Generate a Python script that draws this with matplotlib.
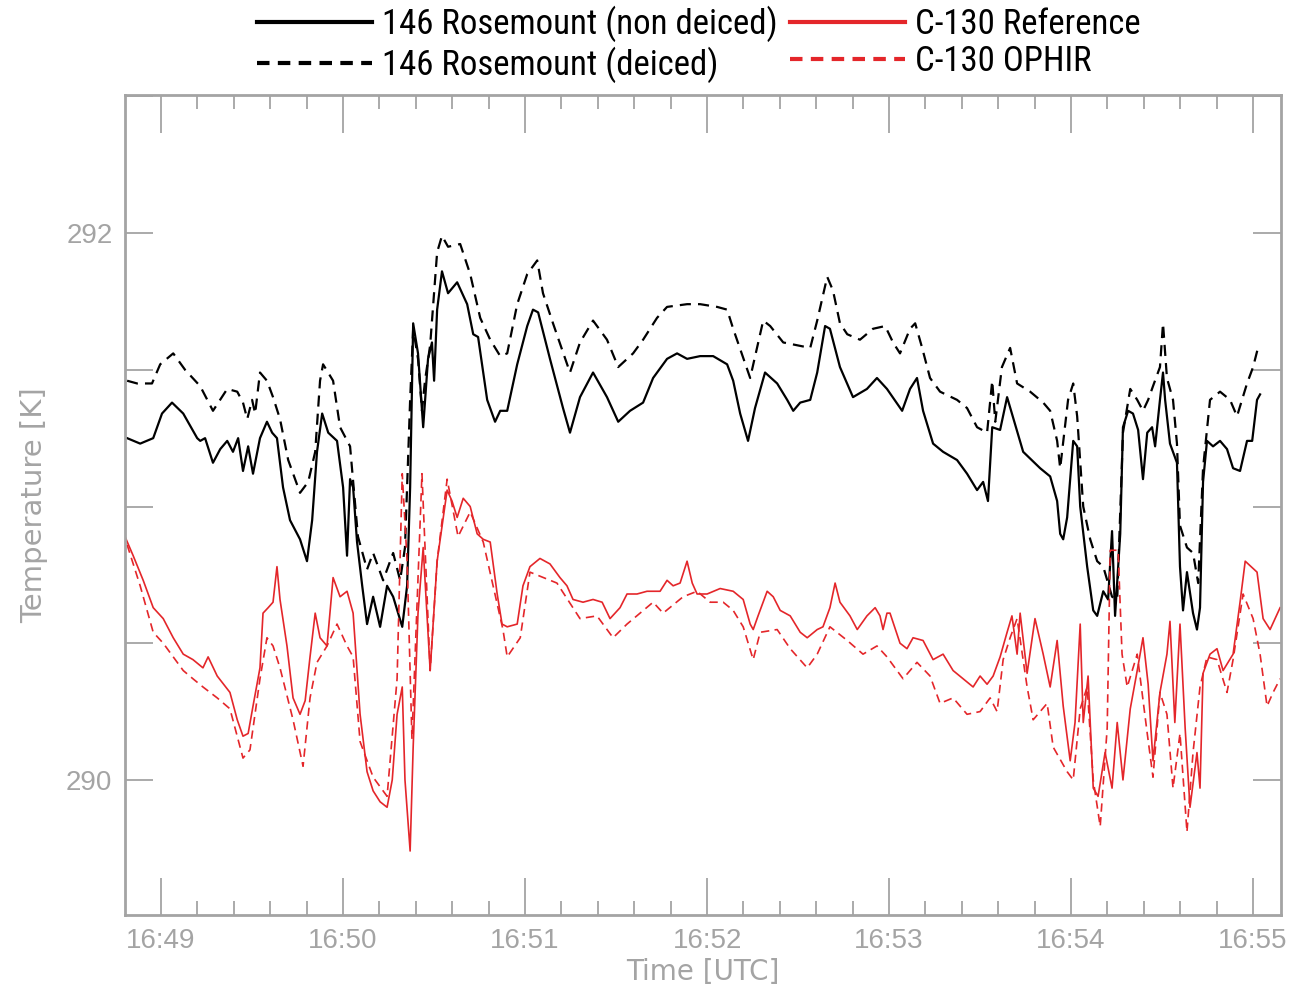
import matplotlib
matplotlib.use("Agg")
import matplotlib.pyplot as plt
from matplotlib.ticker import FixedLocator, MultipleLocator
from matplotlib import font_manager

# ---------------- data (seconds after 16:49:00 UTC, temperature in K) ----------------
t_nondeiced = [-11.2, -6.9, -2.6, 0.3, 3.6, 7.3, 11.9, 12.9, 14.5, 17.1, 19.5, 21.8, 23.7, 25.4, 27.0,
               28.7, 30.3, 32.6, 34.9, 36.6, 38.2, 40.2, 42.5, 45.8, 48.1, 49.8, 51.4, 53.1, 55.1, 58.0,
               60.0, 61.3, 62.3, 63.3, 64.6, 66.3, 67.9, 69.9, 72.2, 74.5, 76.5, 79.5, 81.1, 82.1, 83.1,
               84.7, 86.4, 88.0, 89.3, 90.0, 91.0, 92.6, 94.6, 97.6, 100.9, 102.9, 104.5, 107.5, 110.1,
               111.8, 114.1, 117.4, 120.7, 122.6, 124.3, 128.2, 132.5, 134.8, 138.1, 142.4, 147.0, 150.7,
               154.6, 158.9, 162.2, 166.8, 170.1, 173.4, 177.7, 182.0, 186.6, 188.6, 190.9, 193.5, 195.8,
               199.1, 203.1, 206.4, 208.4, 210.7, 214.0, 216.3, 218.9, 220.5, 223.8, 228.1, 232.7, 236.0,
               239.3, 244.3, 246.9, 249.2, 251.2, 254.5, 257.8, 262.4, 265.7, 269.0, 271.0, 272.6, 274.0,
               276.6, 278.9, 284.2, 289.8, 293.1, 295.4, 296.4, 297.4, 298.7, 300.7, 302.0, 303.0, 305.3,
               307.3, 308.6, 310.6, 312.2, 313.5, 314.5, 316.2, 317.1, 318.8, 320.4, 322.1, 323.7, 325.1,
               326.7, 327.7, 329.3, 330.3, 331.0, 332.6, 334.9, 335.9, 336.9, 338.2, 340.2, 341.5, 342.5,
               343.5, 344.8, 346.8, 349.1, 351.4, 353.4, 355.7, 358.0, 359.7, 361.3, 362.3]
T_nondeiced = [291.25, 291.23, 291.25, 291.34, 291.38, 291.34, 291.25, 291.24, 291.25, 291.16, 291.21,
               291.24, 291.20, 291.25, 291.13, 291.22, 291.12, 291.25, 291.31, 291.27, 291.25, 291.07,
               290.95, 290.88, 290.80, 290.95, 291.20, 291.34, 291.27, 291.24, 291.07, 290.82, 291.10,
               291.07, 290.87, 290.71, 290.57, 290.67, 290.56, 290.71, 290.67, 290.56, 290.71, 291.07,
               291.67, 291.56, 291.29, 291.54, 291.60, 291.46, 291.72, 291.86, 291.78, 291.82, 291.74,
               291.63, 291.62, 291.39, 291.31, 291.35, 291.35, 291.52, 291.66, 291.72, 291.71, 291.54,
               291.36, 291.27, 291.40, 291.49, 291.40, 291.31, 291.35, 291.38, 291.47, 291.54, 291.56,
               291.54, 291.55, 291.55, 291.52, 291.46, 291.34, 291.24, 291.36, 291.49, 291.45, 291.39,
               291.35, 291.38, 291.39, 291.49, 291.66, 291.65, 291.51, 291.40, 291.43, 291.47, 291.43,
               291.35, 291.43, 291.47, 291.35, 291.23, 291.20, 291.17, 291.12, 291.06, 291.09, 291.02,
               291.29, 291.28, 291.40, 291.20, 291.14, 291.11, 291.02, 290.90, 290.88, 290.96, 291.24,
               291.22, 291.00, 290.78, 290.62, 290.60, 290.69, 290.66, 290.91, 290.60, 290.90, 291.29,
               291.35, 291.34, 291.28, 291.10, 291.27, 291.29, 291.22, 291.39, 291.49, 291.39, 291.23,
               291.16, 290.78, 290.62, 290.76, 290.61, 290.55, 290.63, 291.09, 291.24, 291.22, 291.24,
               291.21, 291.14, 291.13, 291.24, 291.24, 291.39, 291.41]

t_deiced = [-11.2, -7.9, -3.0, -0.3, 4.0, 7.9, 12.9, 17.1, 21.8, 25.1, 27.0, 28.4, 30.0, 31.0, 32.6,
            34.9, 36.9, 39.2, 41.9, 45.8, 48.5, 50.8, 52.4, 53.4, 56.7, 59.0, 62.3, 64.9, 67.9, 69.9,
            73.2, 76.5, 78.8, 80.4, 82.1, 83.1, 84.7, 86.0, 87.0, 88.7, 91.0, 92.6, 94.6, 98.6, 101.9,
            105.2, 108.5, 111.8, 114.1, 117.4, 120.7, 124.0, 125.9, 129.2, 134.8, 138.1, 142.4, 147.0,
            150.7, 155.6, 158.9, 163.5, 166.8, 173.4, 177.7, 183.3, 186.6, 188.6, 194.2, 198.5, 200.8,
            205.1, 214.0, 216.3, 219.6, 221.5, 223.8, 226.2, 230.4, 234.7, 238.7, 241.3, 243.6, 246.9,
            248.6, 250.9, 253.5, 256.8, 262.4, 265.7, 269.0, 272.3, 274.0, 275.0, 277.2, 279.9, 282.2,
            286.5, 290.8, 293.1, 295.4, 296.4, 299.0, 300.7, 302.0, 304.0, 306.3, 308.6, 310.6, 313.5,
            315.2, 317.1, 319.5, 321.8, 323.7, 325.4, 327.0, 329.3, 330.3, 331.6, 333.6, 334.9, 335.9,
            338.2, 340.2, 341.9, 343.5, 345.8, 349.1, 352.4, 354.7, 358.0, 360.0, 361.6]
T_deiced = [291.46, 291.45, 291.45, 291.52, 291.56, 291.50, 291.44, 291.35, 291.43, 291.42, 291.38,
            291.32, 291.39, 291.34, 291.49, 291.46, 291.40, 291.32, 291.17, 291.05, 291.09, 291.20,
            291.46, 291.52, 291.46, 291.29, 291.22, 290.89, 290.77, 290.83, 290.73, 290.83, 290.73,
            290.85, 291.39, 291.65, 291.54, 291.35, 291.46, 291.59, 291.93, 291.99, 291.95, 291.96,
            291.85, 291.69, 291.61, 291.55, 291.56, 291.74, 291.85, 291.90, 291.78, 291.67, 291.49,
            291.60, 291.68, 291.61, 291.51, 291.56, 291.61, 291.69, 291.73, 291.74, 291.74, 291.73,
            291.72, 291.65, 291.47, 291.68, 291.66, 291.60, 291.58, 291.68, 291.84, 291.79, 291.67,
            291.63, 291.61, 291.65, 291.66, 291.60, 291.56, 291.65, 291.67, 291.58, 291.47, 291.42,
            291.39, 291.36, 291.29, 291.27, 291.46, 291.31, 291.51, 291.58, 291.45, 291.42, 291.38,
            291.35, 291.24, 291.14, 291.39, 291.45, 291.33, 291.00, 290.88, 290.80, 290.78, 290.67,
            290.66, 291.27, 291.43, 291.39, 291.35, 291.39, 291.44, 291.51, 291.67, 291.47, 291.39,
            291.23, 290.93, 290.85, 290.83, 290.72, 291.14, 291.39, 291.42, 291.39, 291.33, 291.45,
            291.51, 291.58]

t_reference = [-11.9, -9.2, -5.9, -2.6, 0.7, 4.0, 7.3, 10.5, 13.8, 15.5, 18.5, 22.7, 25.1, 27.0, 28.7,
               30.3, 32.6, 33.6, 35.3, 36.9, 38.2, 39.2, 41.5, 43.5, 45.8, 47.5, 49.1, 50.8, 52.4, 54.7,
               56.7, 59.0, 61.3, 63.3, 65.6, 67.9, 69.9, 72.2, 74.5, 76.2, 77.8, 79.5, 80.4, 82.1, 83.1,
               84.7, 86.4, 88.7, 91.0, 94.3, 95.9, 97.6, 99.6, 101.9, 104.2, 106.2, 108.5, 110.8, 112.4,
               114.1, 117.4, 119.3, 121.6, 124.9, 128.2, 131.5, 133.8, 135.8, 139.1, 142.4, 145.4, 148.0,
               151.3, 153.6, 156.9, 160.2, 162.2, 164.5, 166.8, 168.8, 171.1, 173.4, 175.1, 176.7, 180.0,
               184.3, 188.6, 191.9, 194.2, 195.2, 196.8, 199.8, 201.8, 204.1, 207.4, 210.7, 213.0, 216.3,
               218.2, 220.5, 222.2, 223.8, 227.1, 229.5, 232.7, 235.4, 237.0, 238.0, 239.3, 240.3, 243.6,
               245.9, 247.9, 251.2, 254.5, 257.8, 261.1, 264.4, 267.7, 270.0, 272.3, 274.3, 276.6, 278.9,
               280.5, 282.2, 283.2, 285.5, 288.1, 290.8, 293.1, 295.4, 297.4, 299.7, 301.3, 303.0, 304.0,
               305.6, 307.3, 308.9, 311.2, 313.5, 315.2, 317.1, 319.5, 321.8, 323.7, 325.4, 327.0, 329.3,
               331.6, 332.6, 334.2, 335.9, 337.6, 339.2, 341.5, 342.5, 343.5, 345.8, 348.1, 350.1, 353.4,
               355.7, 357.4, 361.3, 363.3, 365.6, 368.9]
T_reference = [290.89, 290.82, 290.73, 290.63, 290.59, 290.52, 290.46, 290.44, 290.41, 290.45, 290.38,
               290.32, 290.22, 290.16, 290.17, 290.27, 290.41, 290.61, 290.63, 290.65, 290.78, 290.66,
               290.49, 290.30, 290.24, 290.29, 290.45, 290.61, 290.52, 290.49, 290.74, 290.67, 290.69,
               290.61, 290.24, 290.03, 289.96, 289.92, 289.90, 290.00, 290.24, 290.34, 290.00, 289.74,
               290.12, 290.61, 290.85, 290.40, 290.80, 291.06, 291.02, 290.96, 291.03, 291.00, 290.90,
               290.88, 290.87, 290.68, 290.57, 290.56, 290.57, 290.71, 290.78, 290.81, 290.79, 290.74,
               290.71, 290.66, 290.65, 290.66, 290.65, 290.59, 290.63, 290.68, 290.68, 290.69, 290.69,
               290.69, 290.73, 290.71, 290.72, 290.80, 290.72, 290.68, 290.68, 290.70, 290.69, 290.66,
               290.57, 290.55, 290.60, 290.69, 290.67, 290.62, 290.60, 290.54, 290.52, 290.55, 290.56,
               290.63, 290.72, 290.65, 290.60, 290.55, 290.60, 290.63, 290.60, 290.55, 290.61, 290.61,
               290.50, 290.48, 290.52, 290.51, 290.44, 290.46, 290.40, 290.37, 290.34, 290.38, 290.35,
               290.38, 290.45, 290.54, 290.60, 290.46, 290.61, 290.39, 290.59, 290.46, 290.34, 290.51,
               290.27, 290.07, 290.21, 290.57, 290.21, 290.38, 289.97, 289.94, 290.10, 289.97, 290.21,
               290.00, 290.26, 290.40, 290.52, 290.35, 290.07, 290.32, 290.46, 290.58, 290.21, 290.57,
               290.19, 289.90, 290.10, 289.97, 290.39, 290.46, 290.48, 290.40, 290.46, 290.65, 290.80,
               290.76, 290.59, 290.55, 290.63]

t_ophir = [-11.2, -6.9, -2.6, 0.7, 7.3, 10.5, 13.8, 18.5, 22.7, 27.0, 29.3, 32.6, 34.9, 36.9, 39.2,
           43.5, 46.8, 49.1, 51.4, 54.7, 58.0, 61.3, 63.3, 65.6, 69.9, 74.5, 77.8, 79.5, 81.1, 82.7,
           86.0, 88.7, 91.0, 94.3, 97.9, 101.9, 106.2, 112.7, 114.1, 118.4, 121.6, 130.5, 138.1, 143.7,
           149.0, 153.6, 157.9, 162.2, 165.5, 172.1, 176.7, 181.0, 185.3, 188.6, 191.9, 195.2, 197.5,
           203.1, 207.4, 213.0, 216.3, 220.5, 226.2, 231.4, 236.0, 239.3, 244.6, 249.2, 253.5, 256.8,
           261.1, 265.7, 270.0, 273.3, 275.6, 277.6, 279.9, 282.2, 285.5, 287.5, 292.1, 294.1, 298.7,
           300.7, 303.0, 305.3, 307.3, 309.6, 311.9, 312.9, 315.5, 316.8, 318.5, 321.8, 325.1, 327.0,
           329.3, 331.6, 333.6, 335.9, 338.2, 340.2, 342.5, 344.8, 348.1, 351.4, 353.4, 356.7, 360.0,
           362.3, 364.6, 366.6, 368.9]
T_ophir = [290.86, 290.71, 290.54, 290.50, 290.40, 290.37, 290.34, 290.30, 290.26, 290.08, 290.11,
           290.37, 290.52, 290.49, 290.41, 290.22, 290.05, 290.30, 290.43, 290.49, 290.57, 290.49,
           290.45, 290.14, 290.01, 289.94, 290.37, 291.12, 290.80, 290.15, 291.12, 290.40, 290.80,
           291.10, 290.89, 290.98, 290.87, 290.55, 290.45, 290.52, 290.76, 290.72, 290.59, 290.60,
           290.52, 290.57, 290.61, 290.65, 290.61, 290.67, 290.69, 290.65, 290.65, 290.62, 290.56,
           290.44, 290.54, 290.55, 290.48, 290.41, 290.46, 290.56, 290.51, 290.46, 290.49, 290.45,
           290.37, 290.43, 290.38, 290.28, 290.30, 290.24, 290.25, 290.30, 290.25, 290.44, 290.52,
           290.59, 290.34, 290.22, 290.28, 290.12, 290.03, 290.00, 290.26, 290.34, 290.00, 289.83,
           290.19, 290.84, 290.84, 290.46, 290.34, 290.46, 290.17, 290.01, 290.32, 290.24, 289.97,
           290.17, 289.81, 290.10, 290.34, 290.45, 290.44, 290.32, 290.44, 290.68, 290.59, 290.46,
           290.27, 290.32, 290.37]

series_labels = ["146 Rosemount (non deiced)", "146 Rosemount (deiced)",
                 "C-130 Reference", "C-130 OPHIR"]
x_tick_values = [0, 60, 120, 180, 240, 300, 360]
x_tick_labels = ["16:49", "16:50", "16:51", "16:52", "16:53", "16:54", "16:55"]
y_tick_values = [290, 292]
y_tick_labels = ["290", "292"]

# ---------------- figure ----------------
GREY = "#a4a4a4"
RED = "#e4262a"
plt.rcParams["font.family"] = ["Liberation Sans", "DejaVu Sans"]

installed = {f.name for f in font_manager.fontManager.ttflist}
legend_family = "Liberation Sans"
for cand in ["Liberation Sans Narrow", "Roboto Condensed", "Open Sans Condensed",
             "Noto Sans Condensed", "DejaVu Sans Condensed"]:
    if cand in installed:
        legend_family = cand
        break

fig = plt.figure(figsize=(12.97, 9.91), dpi=100)
ax = fig.add_axes([125 / 1297, 1 - 915 / 991, (1281 - 125) / 1297, (915 - 95) / 991])

dash = (0, (5, 3.2))
ax.plot(t_nondeiced, T_nondeiced, color="black", lw=1.6, label=series_labels[0])
ax.plot(t_deiced, T_deiced, color="black", lw=1.6, ls=dash, label=series_labels[1])
ax.plot(t_reference, T_reference, color=RED, lw=1.2, label=series_labels[2])
ax.plot(t_ophir, T_ophir, color=RED, lw=1.2, ls=dash, label=series_labels[3])

ax.set_xlim(-11.9, 369.2)
ax.set_ylim(289.506, 292.505)

ax.xaxis.set_major_locator(FixedLocator(x_tick_values))
ax.set_xticklabels(x_tick_labels)
ax.xaxis.set_minor_locator(MultipleLocator(12))
ax.yaxis.set_major_locator(FixedLocator(y_tick_values))
ax.set_yticklabels(y_tick_labels)
ax.yaxis.set_minor_locator(MultipleLocator(0.5))

ax.tick_params(axis="both", which="both", direction="in", top=True, right=True,
               color=GREY, width=1.3, labelcolor=GREY, labelsize=20)
ax.tick_params(axis="x", which="major", length=27, pad=9)
ax.tick_params(axis="x", which="minor", length=10)
ax.tick_params(axis="y", which="major", length=20, pad=9)
ax.tick_params(axis="y", which="minor", length=20)
for s in ax.spines.values():
    s.set_color(GREY)
    s.set_linewidth(2)

ax.set_xlabel("Time [UTC]", color=GREY, fontsize=20, labelpad=3, family="DejaVu Sans")
ax.set_ylabel("Temperature [K]", color=GREY, fontsize=21, labelpad=13, family="DejaVu Sans")

leg_size = 22 if legend_family == "Liberation Sans" else 25
leg_handles = [plt.Line2D([], [], color="black", lw=3),
               plt.Line2D([], [], color="black", lw=3, ls=(0, (3, 2))),
               plt.Line2D([], [], color=RED, lw=3),
               plt.Line2D([], [], color=RED, lw=3, ls=(0, (3, 2)))]
fig.legend(leg_handles, series_labels, loc="upper center", bbox_to_anchor=(0.539, 1.026),
           ncol=2, frameon=False, handlelength=3.3, handletextpad=0.3,
           columnspacing=0.35, labelspacing=0.13,
           prop={"family": legend_family, "size": leg_size})

fig.savefig("out.png", dpi=100)
